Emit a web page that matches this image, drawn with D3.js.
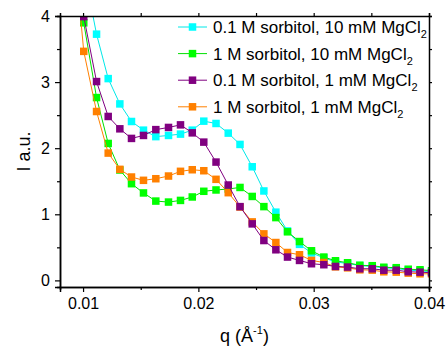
<!DOCTYPE html>
<html>
<head>
<meta charset="utf-8">
<script src="https://cdn.jsdelivr.net/npm/d3@7"></script>
<style>
  html, body { margin: 0; padding: 0; background: #fff; }
  svg text { font-family: "Liberation Sans", Arial, sans-serif; fill: #000; }
</style>
</head>
<body>
<div id="chart"></div>
<script>
// Scattering curves for four sorbitol / MgCl2 conditions.
const q = [0.00903, 0.01006, 0.01117, 0.01218, 0.01319, 0.01420, 0.01524, 0.01631, 0.01741, 0.01845,
  0.01947, 0.02047, 0.02153, 0.02259, 0.02361, 0.02467, 0.02568, 0.02672, 0.02773, 0.02877,
  0.02981, 0.03088, 0.03189, 0.03294, 0.03400, 0.03508, 0.03608, 0.03716, 0.03820, 0.03922, 0.04022];

const cyanVals = [null, 4.71, 3.725, 3.053, 2.670, 2.404, 2.273, 2.175, 2.193, 2.213,
  2.273, 2.409, 2.374, 2.228, 2.057, 1.719, 1.353, 1.032, 0.748, 0.545,
  0.415, 0.342, 0.280, 0.255, 0.225, 0.210, 0.190, 0.180, 0.155, 0.145, 0.130];
const greenVals = [5.0, 3.897, 2.766, 2.072, 1.670, 1.463, 1.323, 1.200, 1.185, 1.210,
  1.262, 1.348, 1.368, 1.383, 1.406, 1.270, 1.116, 0.950, 0.735, 0.588,
  0.448, 0.353, 0.297, 0.267, 0.229, 0.222, 0.199, 0.192, 0.169, 0.161, 0.146];
const purpleVals = [5.2, 3.99, 3.008, 2.480, 2.293, 2.148, 2.193, 2.281, 2.314, 2.353,
  2.232, 2.092, 1.790, 1.443, 1.116, 0.855, 0.603, 0.463, 0.353, 0.302,
  0.252, 0.237, 0.211, 0.202, 0.176, 0.176, 0.154, 0.154, 0.131, 0.124, 0.116];
const orangeVals = [5.4, 3.465, 2.555, 1.926, 1.680, 1.564, 1.514, 1.538, 1.579, 1.650,
  1.674, 1.659, 1.529, 1.327, 1.110, 0.885, 0.704, 0.573, 0.422, 0.388,
  0.302, 0.271, 0.205, 0.190, 0.160, 0.155, 0.130, 0.125, 0.110, 0.100, 0.100];

const xTicks = [0.01, 0.02, 0.03, 0.04];
const xMinor = [0.015, 0.025, 0.035];
const yTicks = [0, 1, 2, 3, 4];
const yMinor = [0.5, 1.5, 2.5, 3.5];

// legend order differs from draw order (purple sits on top in the plot)
const series = [
  { key: "cyan", label: "0.1 M sorbitol, 10 mM MgCl", color: "#00ffff", line: "#00e8e8", vals: cyanVals, legend: 0 },
  { key: "green", label: "1 M sorbitol, 10 mM MgCl", color: "#00ff00", line: "#00e000", vals: greenVals, legend: 1 },
  { key: "orange", label: "1 M sorbitol, 1 mM MgCl", color: "#ff8000", line: "#ff8000", vals: orangeVals, legend: 3 },
  { key: "purple", label: "0.1 M sorbitol, 1 mM MgCl", color: "#800080", line: "#800080", vals: purpleVals, legend: 2 },
];

const FONT = "'Liberation Sans', Arial, sans-serif";
const width = 446, height = 348;
const m = { top: 16, right: 17, bottom: 61, left: 60 };

const svg = d3.select("#chart").append("svg")
  .attr("width", width).attr("height", height).attr("viewBox", `0 0 ${width} ${height}`);

const x = d3.scaleLinear().domain([0.008, 0.04]).range([m.left, width - m.right]);
const y = d3.scaleLinear().domain([-0.1, 4]).range([height - m.bottom, m.top]);

svg.append("defs").append("clipPath").attr("id", "plotClip")
  .append("rect").attr("x", x(0.008)).attr("y", y(4)).attr("width", x(0.04) - x(0.008)).attr("height", y(-0.1) - y(4));

const plot = svg.append("g").attr("clip-path", "url(#plotClip)");
const sq = 7.5;

series.forEach((s) => {
  const pts = q.map((qq, i) => ({ q: qq, v: s.vals[i] })).filter((p) => p.v != null);
  plot.append("path").datum(pts).attr("fill", "none").attr("stroke", s.line).attr("stroke-width", 1)
    .attr("d", d3.line().x((p) => x(p.q)).y((p) => y(p.v)));
  plot.append("g").selectAll("rect").data(pts).join("rect")
    .attr("x", (p) => x(p.q) - sq / 2).attr("y", (p) => y(p.v) - sq / 2)
    .attr("width", sq).attr("height", sq).attr("fill", s.color);
});

// axes: bottom / left with labels, top / right mirrored
const fmtX = d3.format(".2f");
function styleAxis(g) {
  g.select(".domain").attr("stroke", "#000").attr("stroke-width", 1.5);
  g.selectAll(".tick line").attr("stroke", "#000").attr("stroke-width", 1.2);
  g.selectAll(".tick text").attr("font-size", 16).attr("font-family", FONT);
}
const bottomY = y(-0.1), topY = y(4), leftX = x(0.008), rightX = x(0.04);

svg.append("g").attr("transform", `translate(0,${bottomY})`)
  .call(d3.axisBottom(x).tickValues(xTicks).tickFormat(fmtX).tickSize(5).tickPadding(6)).call(styleAxis);
svg.append("g").attr("transform", `translate(0,${bottomY})`)
  .call(d3.axisBottom(x).tickValues(xMinor).tickFormat("").tickSize(3)).call(styleAxis);
svg.append("g").attr("transform", `translate(${leftX},0)`)
  .call(d3.axisLeft(y).tickValues(yTicks).tickFormat(d3.format("d")).tickSize(5).tickPadding(5)).call(styleAxis);
svg.append("g").attr("transform", `translate(${leftX},0)`)
  .call(d3.axisLeft(y).tickValues(yMinor).tickFormat("").tickSize(3)).call(styleAxis);
svg.append("g").attr("transform", `translate(0,${topY})`)
  .call(d3.axisTop(x).tickValues(xTicks.concat(xMinor)).tickFormat("").tickSize(3)).call(styleAxis);
svg.append("g").attr("transform", `translate(${rightX},0)`)
  .call(d3.axisRight(y).tickValues(yTicks.concat(yMinor)).tickFormat("").tickSize(3)).call(styleAxis);

// axis titles
const xt = svg.append("text").attr("x", (leftX + rightX) / 2).attr("y", 342)
  .attr("text-anchor", "middle").attr("font-size", 18);
xt.append("tspan").text("q (Å");
xt.append("tspan").attr("font-size", 11).attr("dy", -8).text("-1");
xt.append("tspan").attr("dy", 8).text(")");

svg.append("text").attr("transform", `translate(30,${(topY + bottomY) / 2}) rotate(-90)`)
  .attr("text-anchor", "middle").attr("font-size", 18).text("I a.u.");

// legend
const lg = svg.append("g");
series.forEach((s) => {
  const ly = 27 + s.legend * 26.6;
  const row = lg.append("g").attr("transform", `translate(0,${ly})`);
  row.append("line").attr("x1", 178).attr("x2", 207).attr("y1", 0).attr("y2", 0)
    .attr("stroke", s.line).attr("stroke-width", 1);
  row.append("rect").attr("x", 192.5 - sq / 2).attr("y", -sq / 2).attr("width", sq).attr("height", sq).attr("fill", s.color);
  const t = row.append("text").attr("x", 213).attr("y", 6).attr("font-size", 17);
  t.append("tspan").text(s.label);
  t.append("tspan").attr("font-size", 11).attr("dy", 5).text("2");
});
</script>
</body>
</html>
